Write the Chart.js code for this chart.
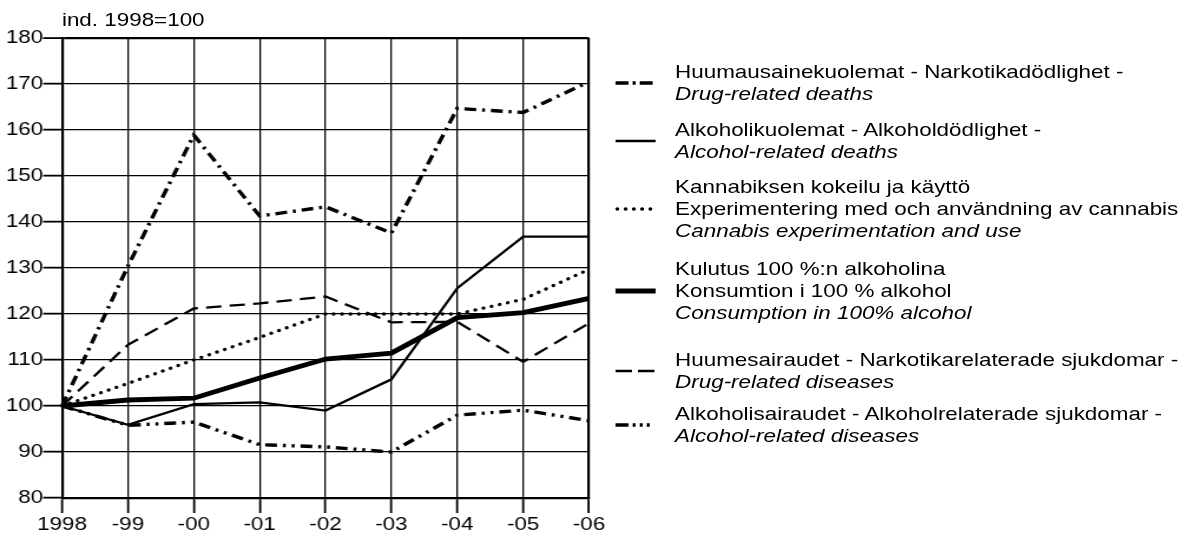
<!DOCTYPE html>
<html>
<head>
<meta charset="utf-8">
<script src="https://cdn.jsdelivr.net/npm/chart.js@4.4.1/dist/chart.umd.min.js"></script>
<style>
  html, body { margin:0; padding:0; background:#fff; overflow:hidden; }
  #wrap { position:absolute; left:0; top:0; width:1010px; height:535px; transform:scaleX(1.1792); transform-origin:0 0; font-family:'Liberation Sans', Arial, sans-serif; color:#000; }
  #c { position:absolute; left:0; top:0; }
  #title { position:absolute; left:52.5px; top:10px; font-size:19px; line-height:19px; white-space:nowrap; }
  .entry { position:absolute; left:572.5px; font-size:19px; line-height:22px; white-space:nowrap; }
  .sample { position:absolute; left:521.6px; width:34px; height:10px; overflow:visible; }
</style>
</head>
<body>
<div id="wrap">
  <canvas id="c" width="1010" height="535"></canvas>
  <div id="title">ind. 1998=100</div>
  <div id="legend"></div>
</div>
<script>
// ---- data ----
const years = ['1998', '-99', '-00', '-01', '-02', '-03', '-04', '-05', '-06'];
const yTicks = [80, 90, 100, 110, 120, 130, 140, 150, 160, 170, 180];
const drugDeaths      = [100, 130.4, 158.9, 141.3, 143.3, 137.6, 164.7, 163.8, 170.5];
const alcoholDeaths   = [100, 95.9, 100.4, 100.8, 99.0, 105.8, 125.6, 136.8, 136.8];
const cannabis        = [100, 104.9, 110.0, 114.9, 120.0, 120.0, 120.0, 123.2, 129.7];
const consumption     = [100, 101.3, 101.7, 106.1, 110.2, 111.5, 119.2, 120.3, 123.4];
const drugDiseases    = [100, 113.3, 121.2, 122.3, 123.8, 118.2, 118.3, 109.6, 118.0];
const alcoholDiseases = [100, 95.8, 96.5, 91.6, 91.1, 90.0, 98.0, 99.1, 96.8];

const legendLines = [
  ['Huumausainekuolemat - Narkotikadödlighet -', '<i>Drug-related deaths</i>'],
  ['Alkoholikuolemat - Alkoholdödlighet -', '<i>Alcohol-related deaths</i>'],
  ['Kannabiksen kokeilu ja käyttö', 'Experimentering med och användning av cannabis', '<i>Cannabis experimentation and use</i>'],
  ['Kulutus 100 %:n alkoholina', 'Konsumtion i 100 % alkohol', '<i>Consumption in 100% alcohol</i>'],
  ['Huumesairaudet - Narkotikarelaterade sjukdomar -', '<i>Drug-related diseases</i>'],
  ['Alkoholisairaudet - Alkoholrelaterade sjukdomar -', '<i>Alcohol-related diseases</i>']
];

// ---- styles ----
const FONT = "'Liberation Sans', Arial, sans-serif";
const W = 1010, H = 535;
const styles = [
  { w: 3.4, dash: [10, 5, 2.5, 5], cap: 'butt',  svgDash: '11 3.5 2.5 3.5 11 100' },
  { w: 2.3, dash: [],              cap: 'butt',  svgDash: '' },
  { w: 3.3, dash: [0.1, 7],        cap: 'round', svgDash: '0.1 6.9' },
  { w: 4.8, dash: [],              cap: 'butt',  svgDash: '' },
  { w: 2.3, dash: [13, 7],         cap: 'butt',  svgDash: '14 5 14 100' },
  { w: 3.4, dash: [10, 5, 2.5, 5, 2.5, 5], cap: 'butt', svgDash: '11 3.5 2.5 3.5 2.5 3.5 2.5 100' }
];
const seriesData = [drugDeaths, alcoholDeaths, cannabis, consumption, drugDiseases, alcoholDiseases];
const entryFirstCenter = [72, 130, 187, 269, 360, 414];

const datasets = seriesData.map((d, i) => ({
  label: legendLines[i][0],
  data: d,
  borderColor: '#000',
  backgroundColor: '#000',
  borderWidth: styles[i].w,
  borderDash: styles[i].dash,
  borderCapStyle: styles[i].cap,
  borderJoinStyle: 'miter',
  pointRadius: 0,
  tension: 0,
  fill: false
}));

new Chart(document.getElementById('c'), {
  type: 'line',
  data: { labels: years, datasets },
  options: {
    responsive: false,
    animation: false,
    layout: { padding: { top: 38, left: 0, bottom: 0, right: W - 499.5 } },
    plugins: { legend: { display: false }, tooltip: { enabled: false }, title: { display: false } },
    scales: {
      x: {
        type: 'category',
        offset: false,
        grid: {
          color: '#000',
          lineWidth: ctx => (ctx.index === years.length - 1 ? 2.2 : 1.3),
          tickLength: 15,
          tickWidth: 1.8,
          drawTicks: true
        },
        border: { color: '#000', width: 2.2 },
        ticks: { color: '#000', font: { family: FONT, size: 19 }, padding: 0, maxRotation: 0, autoSkip: false },
        afterFit: s => { s.height = 37; }
      },
      y: {
        min: 80, max: 180,
        afterBuildTicks: s => { s.ticks = yTicks.map(v => ({ value: v })); },
        grid: {
          color: '#000',
          lineWidth: ctx => (ctx.tick && ctx.tick.value === 180 ? 2.2 : 1.3),
          tickLength: 16,
          tickWidth: 1.8,
          drawTicks: true
        },
        border: { color: '#000', width: 2.2 },
        ticks: { color: '#000', font: { family: FONT, size: 19 }, padding: 0 },
        afterFit: s => { s.width = 52.6; }
      }
    }
  }
});

// ---- legend (HTML) ----
const LH = 22;
const legend = document.getElementById('legend');
legendLines.forEach((lines, i) => {
  const top = entryFirstCenter[i] - LH / 2;
  const mid = entryFirstCenter[i] + (lines.length - 1) * LH / 2;
  const e = document.createElement('div');
  e.className = 'entry';
  e.style.top = top + 'px';
  e.innerHTML = lines.join('<br>');
  legend.appendChild(e);
  const st = styles[i];
  const svgNS = 'http://www.w3.org/2000/svg';
  const svg = document.createElementNS(svgNS, 'svg');
  svg.setAttribute('class', 'sample');
  svg.setAttribute('width', '34');
  svg.setAttribute('height', '10');
  svg.style.top = (mid - 5) + 'px';
  const ln = document.createElementNS(svgNS, 'line');
  ln.setAttribute('x1', st.cap === 'round' ? '1.5' : '0');
  ln.setAttribute('x2', '34');
  ln.setAttribute('y1', '5');
  ln.setAttribute('y2', '5');
  ln.setAttribute('stroke', '#000');
  ln.setAttribute('stroke-width', String(st.w));
  ln.setAttribute('stroke-linecap', st.cap);
  if (st.svgDash) ln.setAttribute('stroke-dasharray', st.svgDash);
  svg.appendChild(ln);
  legend.appendChild(svg);
});
</script>
</body>
</html>
